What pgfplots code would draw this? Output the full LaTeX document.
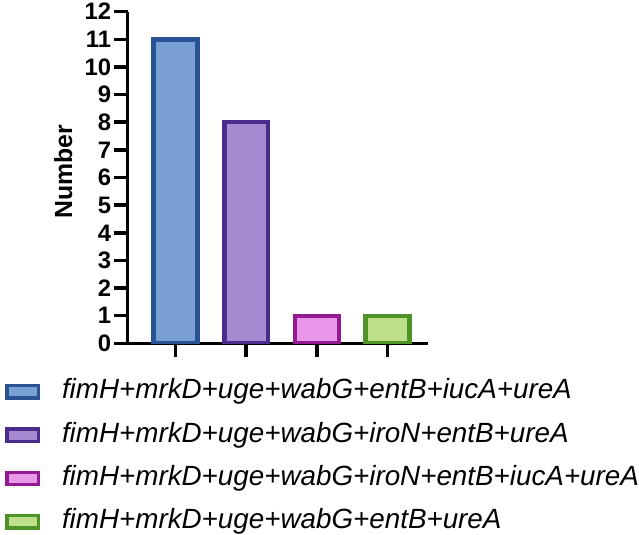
\documentclass[border=0pt]{standalone}
\usepackage{pgfplots}
\pgfplotsset{compat=1.18}
\usepackage{fontspec}
\setmainfont{Liberation Sans}
\definecolor{fA}{HTML}{7BA0D4}\definecolor{dA}{HTML}{2A5394}
\definecolor{fB}{HTML}{A58AD2}\definecolor{dB}{HTML}{4B2C8C}
\definecolor{fC}{HTML}{E997E8}\definecolor{dC}{HTML}{941A94}
\definecolor{fD}{HTML}{BEE08A}\definecolor{dD}{HTML}{4E9328}
\begin{document}
\begin{tikzpicture}
\begin{axis}[
  scale only axis, width=302bp, height=333bp,
  xmin=-0.68, xmax=3.58, ymin=0, ymax=12,
  axis lines=left, axis line style={-, line width=3.5bp},
  xtick={0,1,2,3}, xticklabels={},
  ytick={0,1,...,12},
  tick align=outside, major tick length=14bp,
  tick style={line width=3.5bp, black},
  /pgf/number format/assume math mode=true,
  yticklabel style={font=\bfseries\fontsize{24}{24}\selectfont, xshift=1bp},
  ylabel={Number},
  ylabel style={font=\bfseries\fontsize{25}{25}\selectfont, at={(axis description cs:-0.2136,0.517)}, anchor=center},
  ybar, bar width=44bp, bar shift=0pt,
  legend style={at={(axis description cs:-0.424,-0.107)}, anchor=north west, draw=none, fill=none,
     inner sep=0pt, outer sep=0pt, row sep=17.5bp,
     font=\itshape\fontsize{28}{28}\selectfont,
     nodes={inner sep=0pt, text height=20bp, text depth=6bp},
     /tikz/every odd column/.append style={column sep=22bp}},
  legend cell align=left,
  legend image code/.code={\path (-3bp,0bp); \draw[#1, line width=3.5bp] (1.75bp,-6.25bp) rectangle (33.25bp,6.25bp);},
]
\addplot[fill=fA, draw=dA, line width=4.5bp] coordinates {(0,11)};
\addlegendentry{fimH+mrkD+uge+wabG+entB+iucA+ureA}
\addplot[fill=fB, draw=dB, line width=4.5bp] coordinates {(1,8)};
\addlegendentry{fimH+mrkD+uge+wabG+iroN+entB+ureA}
\addplot[fill=fC, draw=dC, line width=4.5bp] coordinates {(2,1)};
\addlegendentry{fimH+mrkD+uge+wabG+iroN+entB+iucA+ureA}
\addplot[fill=fD, draw=dD, line width=4.5bp] coordinates {(3,1)};
\addlegendentry{fimH+mrkD+uge+wabG+entB+ureA}
\end{axis}
\end{tikzpicture}
\end{document}
